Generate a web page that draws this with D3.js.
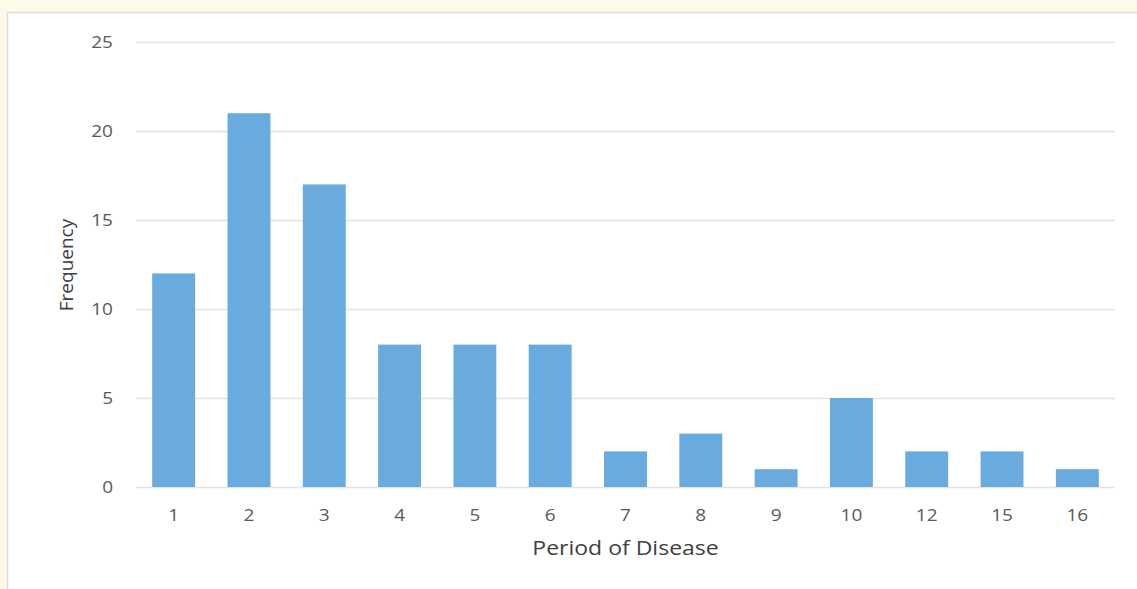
<!DOCTYPE html>
<html><head><meta charset="utf-8">
<script src="https://cdn.jsdelivr.net/npm/d3@7"></script>
<style>
html,body{margin:0;padding:0;background:#fefaea;}
svg{display:block;}
</style></head>
<body>
<svg id="chart" width="1137" height="589"></svg>
<script>
const categories = ["1","2","3","4","5","6","7","8","9","10","12","15","16"];
const frequency = [12,21,17,8,8,8,2,3,1,5,2,2,1];
const yTicks = [0,5,10,15,20,25];
const xTitle = "Period of Disease";
const yTitle = "Frequency";

(function(){
const svg = d3.select("#chart");
svg.append("rect").attr("x",7.5).attr("y",12.5).attr("width",1140).attr("height",590)
  .attr("fill","#fff").attr("stroke","#dcdcdc").attr("stroke-width",1.5);

const pLeft=136, pRight=1115, pTop=42, pBottom=487;
const x = d3.scaleBand().domain(categories).range([pLeft,pRight]).paddingInner(0.43).paddingOuter(0.215);
const y = d3.scaleLinear().domain([0,25]).range([pBottom,pTop]);
const sx = 1.12;

const font = "'Open Sans', 'Noto Sans', sans-serif";
const grid = svg.append("g");
grid.selectAll("line").data(yTicks).join("line")
  .attr("x1",pLeft).attr("x2",pRight)
  .attr("y1",d=>Math.round(y(d))+0.5).attr("y2",d=>Math.round(y(d))+0.5)
  .attr("stroke","#e3e3e3").attr("stroke-width",1.3);

svg.append("g").selectAll("rect").data(frequency).join("rect")
  .attr("x",(d,i)=>x(categories[i])).attr("width",x.bandwidth())
  .attr("y",d=>y(d)).attr("height",d=>y(0)-y(d))
  .attr("fill","#6aabdf");

const yAxis = svg.append("g").attr("transform",`translate(${pLeft},0)`)
  .call(d3.axisLeft(y).tickValues(yTicks).tickSize(0).tickPadding(23));
yAxis.select(".domain").remove();
yAxis.selectAll("text").attr("font-family",font).attr("font-size",17).attr("fill","#595959")
  .attr("x",-23/sx).attr("transform",`scale(${sx},1)`);

const xAxis = svg.append("g").attr("transform",`translate(0,${pBottom})`)
  .call(d3.axisBottom(x).tickSize(0).tickPadding(22));
xAxis.select(".domain").remove();
xAxis.selectAll("text").attr("font-family",font).attr("font-size",17).attr("fill","#595959")
  .attr("transform",`scale(${sx},1)`);

svg.append("text").attr("transform",`translate(${(pLeft+pRight)/2},555) scale(1.15,1)`).attr("text-anchor","middle")
  .attr("font-family",font).attr("font-size",20).attr("fill","#404040").text(xTitle);
svg.append("text").attr("transform","translate(73,265) rotate(-90)").attr("text-anchor","middle")
  .attr("font-family",font).attr("font-size",19).attr("fill","#404040").text(yTitle);
})();
</script>
</body></html>
